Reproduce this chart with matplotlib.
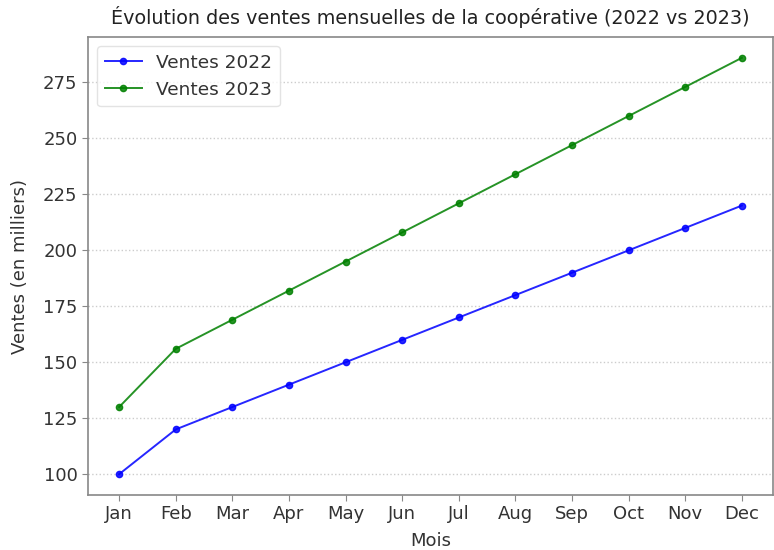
import matplotlib
matplotlib.use("Agg")
import matplotlib.pyplot as plt

plt.rcParams['font.family'] = ['DejaVu Sans']

months = ["Jan", "Feb", "Mar", "Apr", "May", "Jun", "Jul", "Aug", "Sep", "Oct", "Nov", "Dec"]
ventes_2022 = [100, 120, 130, 140, 150, 160, 170, 180, 190, 200, 210, 220]
ventes_2023 = [130, 156, 169, 182, 195, 208, 221, 234, 247, 260, 273, 286]

fig = plt.figure(figsize=(7.74, 5.5), dpi=100)
W, H = 774, 550
ax = fig.add_axes([88 / W, 1 - 495 / H, (773 - 88) / W, (495 - 37) / H])

ax.plot(months, ventes_2022, color='blue', marker='o', markersize=4.5, linewidth=1.4, label='Ventes 2022', alpha=0.85)
ax.plot(months, ventes_2023, color='green', marker='o', markersize=4.5, linewidth=1.4, label='Ventes 2023', alpha=0.85)

ax.grid(axis='y', linestyle=':', color='#cccccc', linewidth=1)
ax.set_axisbelow(True)
for s in ax.spines.values():
    s.set_color('#888888')
    s.set_linewidth(1.2)
ax.tick_params(colors='#444444', labelsize=13, length=4, color='#888888')
for lab in ax.get_xticklabels() + ax.get_yticklabels():
    lab.set_color('#333333')

ax.set_title("Évolution des ventes mensuelles de la coopérative (2022 vs 2023)", fontsize=13.8, color='#222222', pad=9)
ax.set_xlabel("Mois", fontsize=13, color='#333333', labelpad=6)
ax.set_ylabel("Ventes (en milliers)", fontsize=13, color='#333333', labelpad=10)
ax.set_yticks([100, 125, 150, 175, 200, 225, 250, 275])

leg = ax.legend(loc='upper left', fontsize=13.3, frameon=True)
leg.get_frame().set_edgecolor('#dddddd')
for t in leg.get_texts():
    t.set_color('#333333')

fig.savefig("out.png", dpi=100)
